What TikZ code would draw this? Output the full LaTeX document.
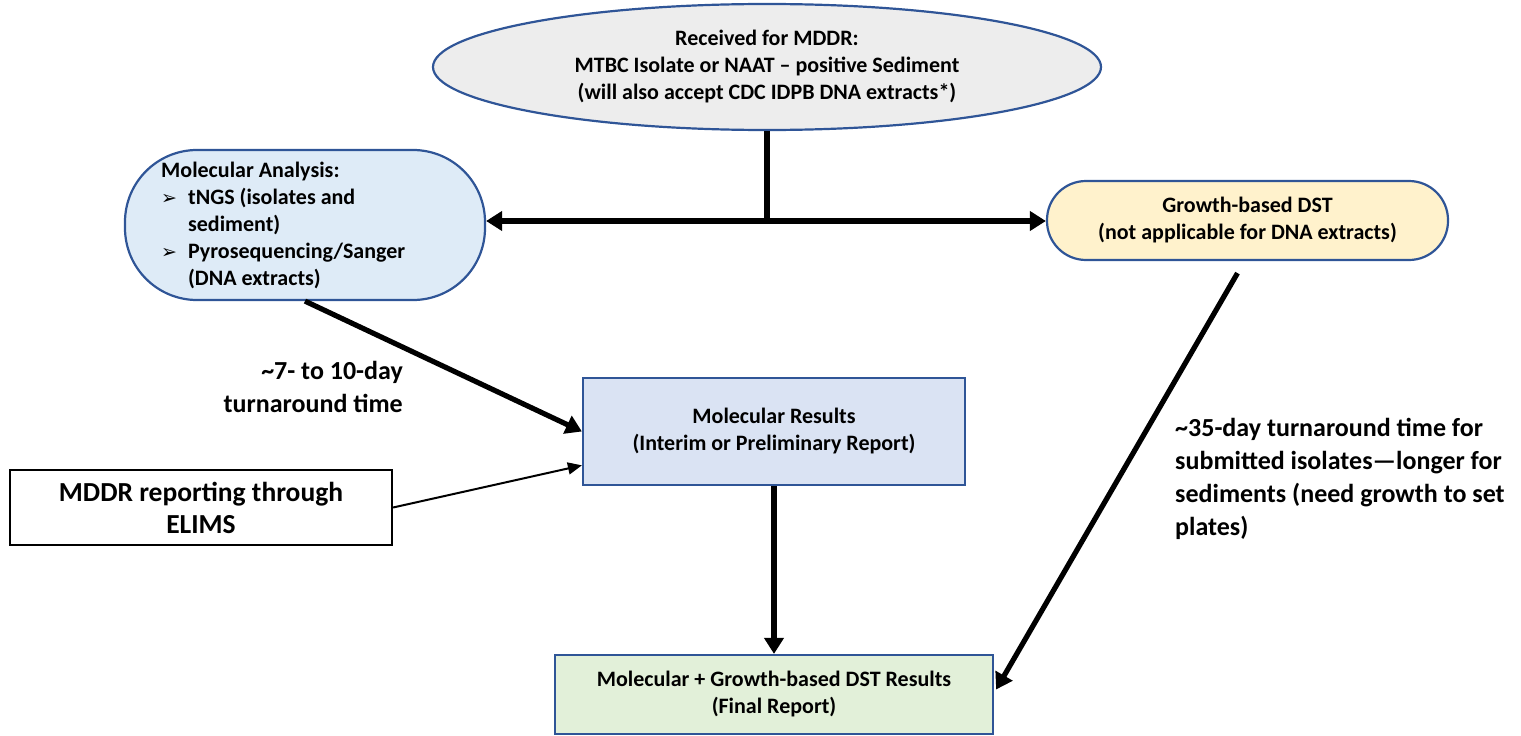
\documentclass[tikz,border=0pt]{standalone}
\usepackage{fontspec}
\setmainfont{Carlito}
\newfontfamily\symfont{DejaVu Sans}
\usetikzlibrary{shapes.geometric,arrows.meta,calc}
\definecolor{bord}{HTML}{2F5597}
\definecolor{topfill}{HTML}{EDEDED}
\definecolor{mafill}{HTML}{DEEBF7}
\definecolor{grfill}{HTML}{FFF2CC}
\definecolor{mrfill}{HTML}{DAE3F3}
\definecolor{finfill}{HTML}{E2F0D9}
\begin{document}
\begin{tikzpicture}[x=1pt,y=-1pt,
  font=\bfseries\fontsize{22}{27}\selectfont,
  box/.style={draw=bord, line width=2.2pt, inner sep=0pt, align=center},
  bigarrow/.style={line width=5.2pt, -{Triangle[length=16pt,width=19pt]}},
  smallarrow/.style={line width=2pt, -{Triangle[length=14pt,width=12pt]}},
  lbl/.style={inner sep=0pt, font=\bfseries\fontsize{26}{33}\selectfont}]
\useasboundingbox (0,0) rectangle (1521,736);

\node[box, ellipse, fill=topfill, minimum width=668pt, minimum height=126pt] (top) at (767,67)
  {Received for MDDR:\\MTBC Isolate or NAAT \textendash{} positive Sediment\\(will also accept CDC IDPB DNA extracts*)};

\node[box, rectangle, rounded corners=72pt, fill=mafill, minimum width=360pt, minimum height=150pt] (ma) at (305,225) {};
\node[inner sep=0pt, anchor=west] (matext) at (161,226)
  {\begin{tabular}{@{}l@{\hspace{11pt}}l@{}}
   \multicolumn{2}{@{}l@{}}{Molecular Analysis:}\\
   {\symfont\mdseries\fontsize{19}{27}\selectfont ➢} & tNGS (isolates and\\
   & sediment)\\
   {\symfont\mdseries\fontsize{19}{27}\selectfont ➢} & Pyrosequencing/Sanger\\
   & (DNA extracts)
   \end{tabular}};

\node[box, rectangle, rounded corners=39pt, fill=grfill, minimum width=401pt, minimum height=79pt] (growth) at (1247.5,220.5)
  {Growth-based DST\\(not applicable for DNA extracts)};

\node[box, rectangle, fill=mrfill, minimum width=382pt, minimum height=107pt] (mr) at (774,431.5)
  {Molecular Results\\(Interim or Preliminary Report)};

\node[draw=black, line width=2.2pt, inner sep=0pt, align=center, fill=white,
  minimum width=382pt, minimum height=75pt, font=\bfseries\fontsize{27.5}{32}\selectfont] (mddr) at (201,507.5)
  {MDDR reporting through\\ELIMS};

\node[box, rectangle, fill=finfill, minimum width=438pt, minimum height=79pt] (fin) at (774,694.5)
  {Molecular + Growth-based DST Results\\(Final Report)};

\node[lbl, anchor=east, align=right] (lab1) at (403,387)
  {\textasciitilde7- to 10-day\\turnaround time};
\node[lbl, anchor=west, align=left] (lab2) at (1175,479)
  {\textasciitilde35-day turnaround time for\\submitted isolates\textemdash longer for\\sediments (need growth to set\\plates)};

\coordinate (j) at (767,221);
\draw[line width=5.2pt] (top.south) -- (j);
\draw[bigarrow] (j) -- (j -| ma.east);
\draw[bigarrow] (j) -- (j -| growth.west);
\draw[bigarrow] (ma.south) -- (mr.west);
\draw[smallarrow] (mddr.east) -- ($(mr.south west)!0.19!(mr.north west)$);
\draw[bigarrow] (mr.south) -- (fin.north);
\draw[bigarrow] ($(growth.south)+(-10,12)$) -- ($(fin.east)+(2,-5)$);
\end{tikzpicture}
\end{document}
